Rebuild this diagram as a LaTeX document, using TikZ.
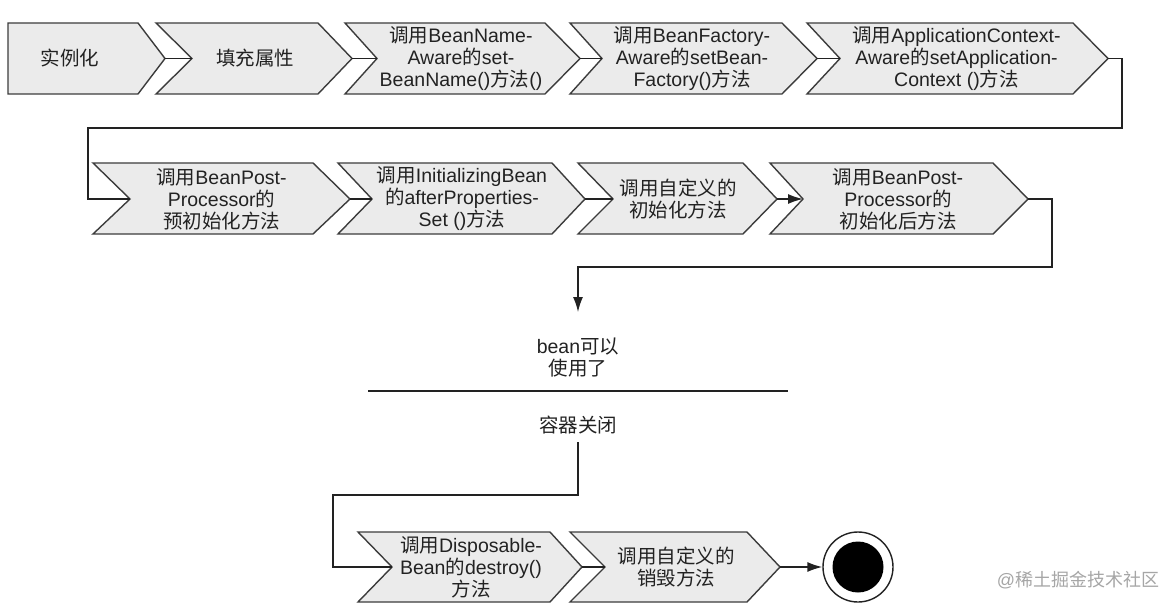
\documentclass[tikz,border=0pt]{standalone}
\usepackage{fontspec}
\setmainfont{Liberation Sans}
\newfontfamily\cjkfont{Noto Sans CJK SC}
\newcommand\zh[1]{{\cjkfont #1}}
\usetikzlibrary{arrows.meta}
\definecolor{boxfill}{HTML}{EBEBEB}
\definecolor{boxline}{HTML}{3C3C3C}
\definecolor{ink}{HTML}{222222}
\tikzset{
  chevshape/.style={draw=boxline, fill=boxfill, line width=1.4pt, line join=miter},
  lbl/.style={align=center, text=ink, inner sep=0pt, font=\fontsize{19.5}{22}\selectfont},
  conn/.style={draw=ink, line width=1.4pt},
  arr/.style={conn, -{Latex[length=15pt,width=10pt]}},
}
% name, L, notch, R, tip, top, bottom, mid
\newcommand\chev[8]{%
  \draw[chevshape] (#2,#6) -- (#4,#6) -- (#5,#8) -- (#4,#7) -- (#2,#7) -- (#3,#8) -- cycle;
  \coordinate (#1-in) at (#3,#8);
  \coordinate (#1-out) at (#5,#8);
  \coordinate (#1-c) at ({(#3+#4)/2},#8);
}
\begin{document}
\begin{tikzpicture}[x=1pt,y=-1pt]
\useasboundingbox (0,0) rectangle (1176,607);
\fill[white] (0,0) rectangle (1176,607);
% row 1
\chev{s1}{8}{8}{138}{165}{23}{94}{58.5}
\chev{s2}{156}{192}{318}{352}{23}{94}{58.5}
\chev{s3}{345}{377}{545}{580}{23}{94}{58.5}
\chev{s4}{570}{602}{782}{817}{23}{94}{58.5}
\chev{s5}{807}{840}{1073}{1108}{23}{94}{58.5}
% row 2
\chev{s6}{93}{130}{313}{350}{163}{234}{199}
\chev{s7}{338}{372}{552}{585}{163}{234}{199}
\chev{s8}{578}{613}{743}{777}{163}{234}{199}
\chev{s9}{770}{803}{993}{1028}{163}{234}{199}
% row 3
\chev{s10}{358}{392}{550}{582}{532}{602}{567}
\chev{s11}{570}{605}{747}{780}{532}{602}{567}

\node[lbl] (t1) at (70,58.5) {\zh{实例化}};
\node[lbl] (t2) at (s2-c) {\zh{填充属性}};
\node[lbl] (t3) at (s3-c) {\zh{调用}BeanName-\\Aware\zh{的}set-\\BeanName()\zh{方法}()};
\node[lbl] (t4) at (s4-c) {\zh{调用}BeanFactory-\\Aware\zh{的}setBean-\\Factory()\zh{方法}};
\node[lbl] (t5) at (s5-c) {\zh{调用}ApplicationContext-\\Aware\zh{的}setApplication-\\Context ()\zh{方法}};
\node[lbl] (t6) at (s6-c) {\zh{调用}BeanPost-\\Processor\zh{的}\\\zh{预初始化方法}};
\node[lbl] (t7) at (s7-c) {\zh{调用}InitializingBean\\\zh{的}afterProperties-\\Set ()\zh{方法}};
\node[lbl] (t8) at (s8-c) {\zh{调用自定义的}\\\zh{初始化方法}};
\node[lbl] (t9) at (s9-c) {\zh{调用}BeanPost-\\Processor\zh{的}\\\zh{初始化后方法}};
\node[lbl] (t10) at (s10-c) {\zh{调用}Disposable-\\Bean\zh{的}destroy()\\\zh{方法}};
\node[lbl] (t11) at (s11-c) {\zh{调用自定义的}\\\zh{销毁方法}};

% row 1 connectors
\draw[conn] (s1-out) -- (s2-in);
\draw[conn] (s2-out) -- (s3-in);
\draw[conn] (s3-out) -- (s4-in);
\draw[conn] (s4-out) -- (s5-in);
% wrap to row 2
\coordinate (w1) at (1122,128);
\coordinate (w2) at (88,128);
\draw[conn] (s5-out) -| (w1) -- (w2) |- (s6-in);
\draw[conn] (s6-out) -- (s7-in);
\draw[conn] (s7-out) -- (s8-in);
\draw[arr] (s8-out) -- (s9-in);
% down to bean
\coordinate (w3) at (1052,267);
\coordinate (w4) at (578,267);
\coordinate (arrend) at (578,312);
\draw[arr] (s9-out) -| (w3) -- (w4) -- (arrend);
\node[lbl] (bean) at (578,357.5) {bean\zh{可以}\\\zh{使用了}};
\coordinate (sepL) at (368,391);
\coordinate (sepR) at (788,391);
\draw[conn, line width=1.2pt] (sepL) -- (sepR);
\node[lbl] (close) at (578,425) {\zh{容器关闭}};
\coordinate (w5) at (578,442);
\coordinate (w6) at (333,495);
\draw[conn, line width=1.2pt] (w5) |- (w6) |- (s10-in);
\draw[conn] (s10-out) -- (s11-in);
% end state
\node[circle, draw=ink, line width=1.4pt, minimum size=70pt, inner sep=0pt] (end) at (858,567) {};
\node[circle, fill=black, minimum size=51pt, inner sep=0pt] (endin) at (end.center) {};
\draw[arr] (s11-out) -- (end.west);
% watermark
\node[text=black!35, inner sep=0pt, font=\fontsize{18}{20}\selectfont] (wm) at (1078,580) {@\zh{稀土掘金技术社区}};
\end{tikzpicture}
\end{document}
